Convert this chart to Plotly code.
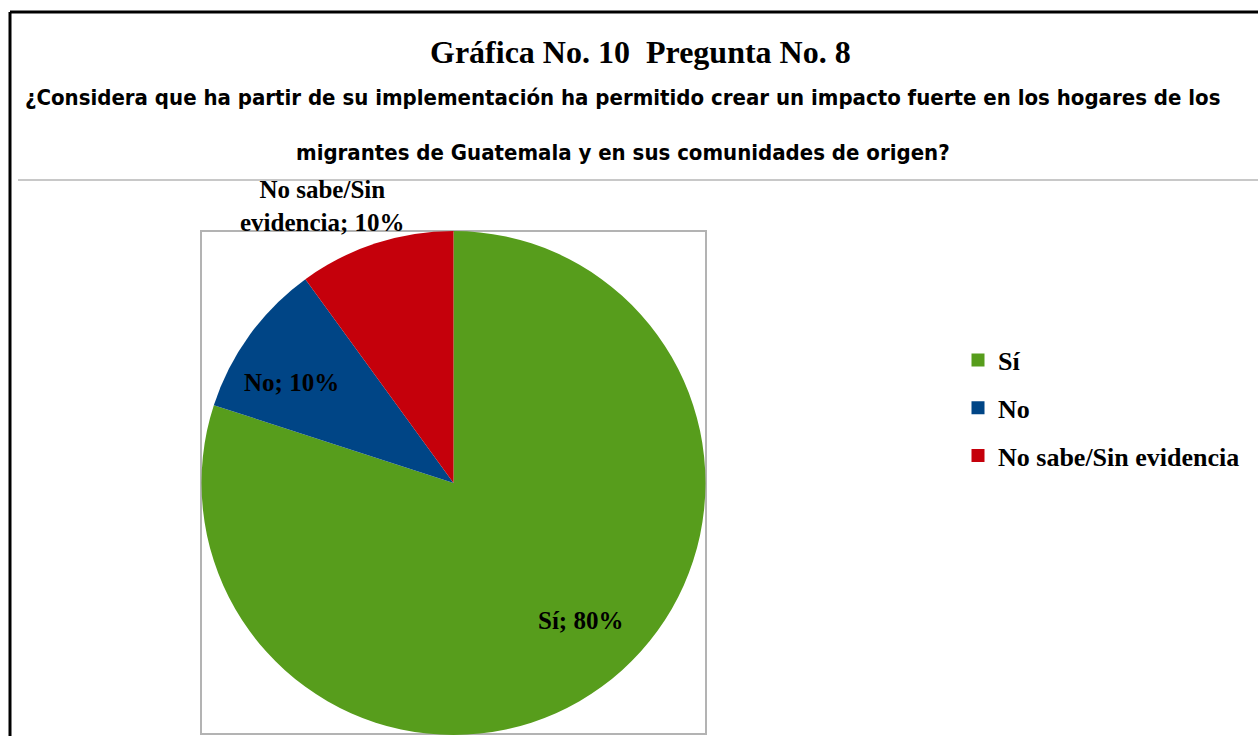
import plotly.graph_objects as go

categories = ["Sí", "No", "No sabe/Sin evidencia"]
values = [80, 10, 10]
colors = ["#579D1C", "#004586", "#C5000B"]
label_text = ["Sí; 80%", "No; 10%", "No sabe/Sin<br>evidencia; 10%"]

W, H = 1258, 736
serif = "Liberation Serif, Times New Roman, serif"
narrow = "Liberation Sans Narrow, DejaVu Sans Condensed, DejaVu Sans, sans-serif"


def px(x):
    return x / W


def py(y):
    return 1 - y / H


fig = go.Figure(
    go.Pie(
        labels=categories,
        values=values,
        marker=dict(colors=colors),
        sort=False,
        direction="clockwise",
        rotation=0,
        textinfo="none",
        hoverinfo="label+percent",
        showlegend=False,
        domain=dict(x=[px(201), px(706)], y=[py(735), py(231)]),
    )
)

# legend entries (spaced like the original, one group per category)
for cat, col in zip(categories, colors):
    fig.add_trace(go.Scatter(
        x=[None], y=[None], mode="markers", name="<b>%s</b>" % cat,
        legendgroup=cat,
        marker=dict(symbol="square", size=13, color=col),
        hoverinfo="skip"))

# slice labels placed like the original
label_pos = [(580, 620), (291, 383), (322, 206)]
annotations = []
for txt, (x, y) in zip(label_text, label_pos):
    annotations.append(dict(
        x=px(x), y=py(y), xref="paper", yref="paper", text="<b>%s</b>" % txt,
        showarrow=False, xanchor="center", yanchor="middle",
        font=dict(family=serif, size=25, color="black")))

annotations += [
    dict(x=px(640), y=py(52), xref="paper", yref="paper",
         text="<b>Gráfica No. 10  Pregunta No. 8</b>", showarrow=False,
         xanchor="center", yanchor="middle",
         font=dict(family=serif, size=32, color="black")),
    dict(x=px(622), y=py(97), xref="paper", yref="paper",
         text="<b>¿Considera que ha partir de su implementación ha permitido crear un impacto fuerte en los hogares de los</b>",
         showarrow=False, xanchor="center", yanchor="middle",
         font=dict(family=narrow, size=22, color="black")),
    dict(x=px(623), y=py(152), xref="paper", yref="paper",
         text="<b>migrantes de Guatemala y en sus comunidades de origen?</b>",
         showarrow=False, xanchor="center", yanchor="middle",
         font=dict(family=narrow, size=22, color="black")),
]

shapes = [
    # outer black frame
    dict(type="line", xref="paper", yref="paper", x0=px(10), x1=px(1258),
         y0=py(12), y1=py(12), line=dict(color="black", width=3)),
    dict(type="line", xref="paper", yref="paper", x0=px(10), x1=px(10),
         y0=py(12), y1=0, line=dict(color="black", width=3)),
    # grey separator
    dict(type="line", xref="paper", yref="paper", x0=px(18), x1=px(1258),
         y0=py(180), y1=py(180), line=dict(color="#C8C8C8", width=2)),
    # plot area box
    dict(type="rect", xref="paper", yref="paper", x0=px(201), x1=px(706),
         y0=py(734), y1=py(231), line=dict(color="#B3B3B3", width=2),
         layer="below"),
]

fig.update_layout(
    width=W, height=H,
    margin=dict(l=0, r=0, t=0, b=0),
    paper_bgcolor="white", plot_bgcolor="white",
    showlegend=True,
    xaxis=dict(visible=False),
    yaxis=dict(visible=False),
    legend=dict(x=px(958), y=py(408), xanchor="left", yanchor="middle",
                font=dict(family=serif, size=26, color="black"),
                tracegroupgap=11, itemwidth=30),
    annotations=annotations,
    shapes=shapes,
)

fig.write_html("out.html", config={"displayModeBar": False},
               post_script="document.body.style.margin='0px';")
